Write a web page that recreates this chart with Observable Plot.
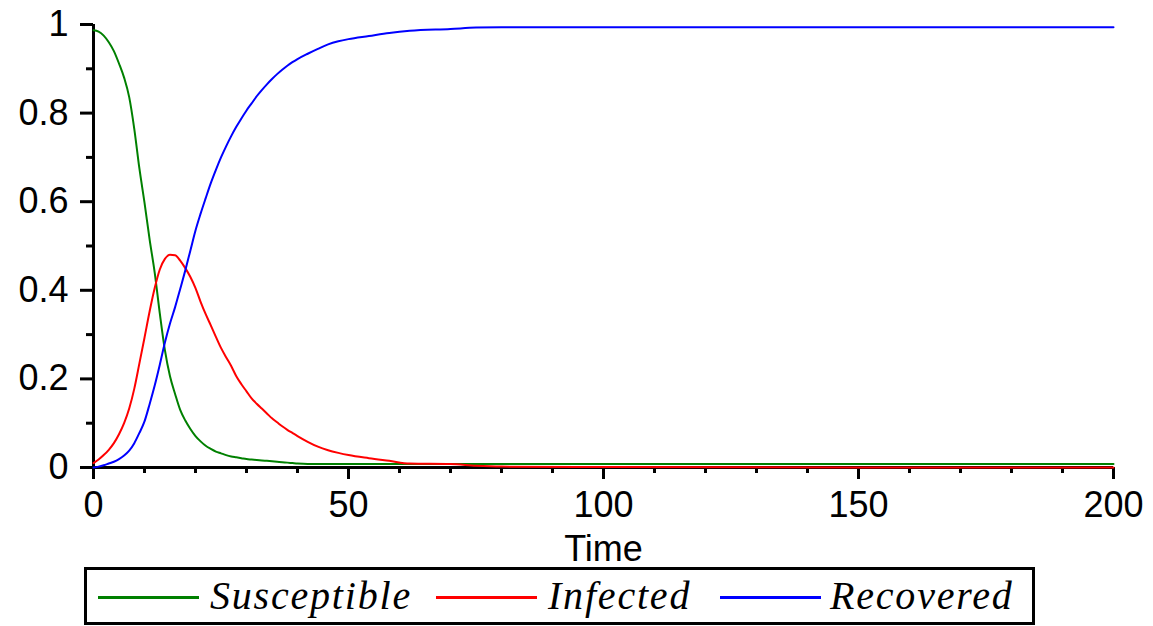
<!DOCTYPE html>
<html>
<head>
<meta charset="utf-8">
<script src="https://cdn.jsdelivr.net/npm/d3@7"></script>
<script src="https://cdn.jsdelivr.net/npm/@observablehq/plot@0.6"></script>
<style>
  html, body { margin: 0; padding: 0; background: #fff; }
  #wrap { position: relative; width: 1153px; height: 626px; overflow: hidden; }
  #legend { position: absolute; left: 84px; top: 567px; width: 951px; height: 58px; box-sizing: border-box; border: 3px solid #000; }
  .sw { position: absolute; height: 3px; }
  .lab { position: absolute; font-family: "Liberation Serif", serif; font-style: italic; font-size: 40px; line-height: 40px; letter-spacing: 1.8px; color: #000; white-space: nowrap; }
</style>
</head>
<body>
<div id="wrap"><div id="chart"></div><div id="legend"></div></div>
<script>
// ---- data ----
const seriesNames = ["Susceptible", "Infected", "Recovered"];
const seriesColors = ["#008000", "#ff0000", "#0000ff"];
const xTicks = [0, 50, 100, 150, 200];
const xMinorTicks = [10, 20, 30, 40, 60, 70, 80, 90, 110, 120, 130, 140, 160, 170, 180, 190];
const yTicks = [0, 0.2, 0.4, 0.6, 0.8, 1];
const yMinorTicks = [0.1, 0.3, 0.5, 0.7, 0.9];

const times = [0, 1, 2, 3, 4, 5, 6, 7, 8, 9, 10, 11, 12, 13, 14, 15, 16, 17, 18, 19, 20,
  21, 22, 23, 24, 25, 26, 27, 28, 29, 30, 31, 32, 33, 34, 35, 36, 37, 38, 39, 40,
  42, 44, 46, 48, 50, 54, 58, 62, 70, 75, 80, 100, 150, 200];
const susceptible = [0.987, 0.984, 0.975, 0.96, 0.94, 0.912, 0.88, 0.836, 0.764, 0.675, 0.598,
  0.515, 0.44, 0.348, 0.265, 0.206, 0.166, 0.13, 0.106, 0.087, 0.071,
  0.059, 0.049, 0.042, 0.036, 0.032, 0.028, 0.025, 0.023, 0.021, 0.019,
  0.018, 0.017, 0.016, 0.015, 0.014, 0.013, 0.012, 0.011, 0.010, 0.009,
  0.008, 0.008, 0.008, 0.008, 0.008, 0.008, 0.008, 0.008, 0.008, 0.008, 0.008, 0.008, 0.008, 0.008];
const infected = [0.01, 0.018, 0.028, 0.04, 0.055, 0.075, 0.1, 0.133, 0.178, 0.235, 0.293,
  0.352, 0.405, 0.447, 0.471, 0.48, 0.479, 0.467, 0.45, 0.43, 0.405,
  0.374, 0.346, 0.321, 0.295, 0.27, 0.249, 0.229, 0.206, 0.188, 0.172,
  0.156, 0.144, 0.133, 0.122, 0.111, 0.102, 0.093, 0.085, 0.078, 0.071,
  0.058, 0.047, 0.039, 0.033, 0.028, 0.021, 0.015, 0.009, 0.008, 0.004, 0.002, 0.001, 0.0, 0.0];
const recovered = [0.0, 0.002, 0.005, 0.009, 0.013, 0.019, 0.027, 0.038, 0.055, 0.078, 0.104,
  0.143, 0.185, 0.232, 0.282, 0.325, 0.362, 0.403, 0.445, 0.49, 0.535,
  0.573, 0.608, 0.642, 0.672, 0.7, 0.725, 0.748, 0.769, 0.788, 0.806,
  0.822, 0.838, 0.852, 0.865, 0.877, 0.888, 0.898, 0.907, 0.915, 0.922,
  0.934, 0.945, 0.955, 0.962, 0.967, 0.974, 0.981, 0.986, 0.99, 0.993, 0.994, 0.994, 0.994, 0.994];

const seriesValues = [susceptible, infected, recovered];
const rows = [];
seriesNames.forEach((name, k) => {
  times.forEach((t, i) => rows.push({t, v: seriesValues[k][i], series: name}));
});

const chart = Plot.plot({
  width: 1153,
  height: 565,
  marginLeft: 93,
  marginRight: 40,
  marginTop: 24,
  marginBottom: 98,
  x: {domain: [0, 200]},
  y: {domain: [0, 1]},
  color: {domain: seriesNames, range: seriesColors},
  style: {fontFamily: "'Liberation Sans', Arial, sans-serif", fontSize: "36px", color: "#000", background: "#fff", overflow: "visible"},
  marks: [
    Plot.axisX(xMinorTicks, {tickSize: 6, strokeWidth: 3, tickFormat: () => "", label: null}),
    Plot.axisX(xTicks, {tickSize: 12, strokeWidth: 3, tickPadding: 12, fontSize: 36,
      label: "Time", labelAnchor: "center", labelArrow: "none", labelOffset: 93}),
    Plot.axisY(yMinorTicks, {tickSize: 7, strokeWidth: 3, tickFormat: () => "", label: null}),
    Plot.axisY(yTicks, {tickSize: 13, strokeWidth: 3, tickPadding: 12, fontSize: 36, label: null,
      tickFormat: d => String(d)}),
    Plot.ruleY([0], {strokeWidth: 3}),
    Plot.ruleX([0], {strokeWidth: 3}),
    Plot.line(rows, {x: "t", y: "v", stroke: "series", strokeWidth: 2, curve: "monotone-x"})
  ]
});
document.getElementById("chart").appendChild(chart);

// ---- legend ----
const legend = document.getElementById("legend");
const swatchLeft = [11, 349, 633];
const labelLeft = [123, 461, 743];
seriesNames.forEach((name, k) => {
  const sw = document.createElement("div");
  sw.className = "sw";
  sw.style.left = swatchLeft[k] + "px";
  sw.style.top = "26px";
  sw.style.width = "101px";
  sw.style.background = seriesColors[k];
  legend.appendChild(sw);
  const lab = document.createElement("div");
  lab.className = "lab";
  lab.style.left = labelLeft[k] + "px";
  lab.style.top = "6px";
  lab.textContent = name;
  legend.appendChild(lab);
});
</script>
</body>
</html>
